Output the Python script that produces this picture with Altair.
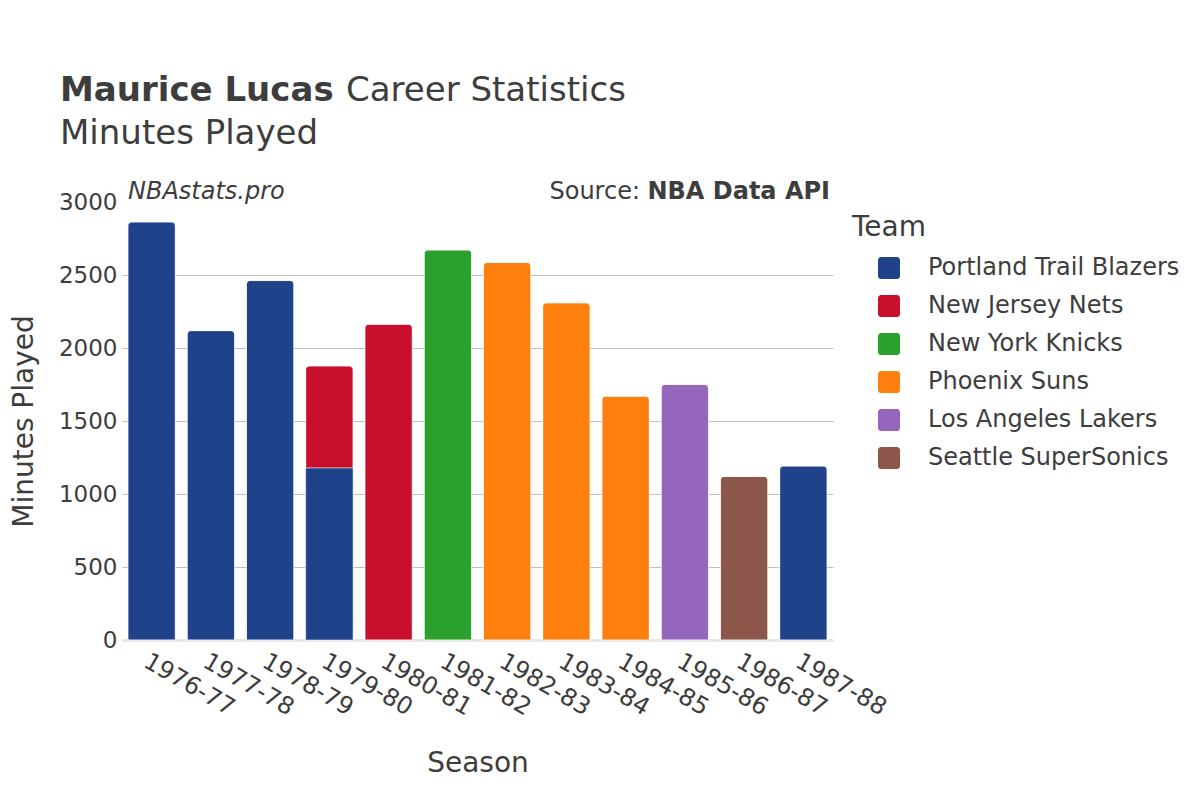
import altair as alt
import pandas as pd

seasons = ["1976-77", "1977-78", "1978-79", "1979-80", "1979-80", "1980-81", "1981-82",
           "1982-83", "1983-84", "1984-85", "1985-86", "1986-87", "1987-88"]
teams = ["Portland Trail Blazers", "Portland Trail Blazers", "Portland Trail Blazers",
         "Portland Trail Blazers", "New Jersey Nets", "New Jersey Nets", "New York Knicks",
         "Phoenix Suns", "Phoenix Suns", "Phoenix Suns", "Los Angeles Lakers",
         "Seattle SuperSonics", "Portland Trail Blazers"]
minutes = [2863, 2119, 2462, 1178, 699, 2162, 2671, 2586, 2309, 1670, 1750, 1120, 1191]
stack_order = [0, 0, 0, 0, 1, 0, 0, 0, 0, 0, 0, 0, 0]
is_top = [True, True, True, False, True, True, True, True, True, True, True, True, True]

season_order = ["1976-77", "1977-78", "1978-79", "1979-80", "1980-81", "1981-82",
                "1982-83", "1983-84", "1984-85", "1985-86", "1986-87", "1987-88"]
team_order = ["Portland Trail Blazers", "New Jersey Nets", "New York Knicks",
              "Phoenix Suns", "Los Angeles Lakers", "Seattle SuperSonics"]
team_colors = ["#1f428a", "#c8102e", "#2ca02c", "#ff7f0e", "#9467bd", "#8c564b"]

df = pd.DataFrame({"Season": seasons, "Team": teams, "Minutes": minutes,
                   "ord": stack_order, "top": is_top})

FONT = "DejaVu Sans"
TXT = "#3d3d3d"

rounded = ("M-0.72,-1 L0.72,-1 A0.28,0.28 0 0 1 1,-0.72 L1,0.72 A0.28,0.28 0 0 1 0.72,1 "
           "L-0.72,1 A0.28,0.28 0 0 1 -1,0.72 L-1,-0.72 A0.28,0.28 0 0 1 -0.72,-1 Z")

x_enc = alt.X("Season:N", sort=season_order, scale=alt.Scale(paddingInner=0.2, paddingOuter=0.1),
              axis=alt.Axis(title="Season", labelAngle=30, labelAlign="left", labelBaseline="top",
                            labelPadding=9, labelFontSize=24, labelColor=TXT, ticks=False,
                            domainColor="#e6e6e6", domainWidth=3, titleFontSize=28,
                            titleFontWeight="normal", titleColor=TXT, titlePadding=30,
                            labelFont=FONT, titleFont=FONT))
y_enc = alt.Y("Minutes:Q", stack="zero", scale=alt.Scale(domain=[0, 3000], nice=False),
              axis=alt.Axis(title="Minutes Played", values=[0, 500, 1000, 1500, 2000, 2500, 3000],
                            format="d", labelFontSize=23, labelColor=TXT, ticks=False, domain=False,
                            labelPadding=5, gridColor="#c0c0c0", gridWidth=1,
                            gridOpacity={"condition": {"test": "datum.value === 0 || datum.value === 3000",
                                                       "value": 0}, "value": 1},
                            titleFontSize=28, titleFontWeight="normal", titleColor=TXT,
                            titlePadding=20, labelFont=FONT, titleFont=FONT))
color_enc = alt.Color("Team:N", scale=alt.Scale(domain=team_order, range=team_colors),
                      legend=alt.Legend(title="Team", orient="none", legendX=730, legendY=12,
                                        titleFontSize=28, titleFontWeight="normal", titleColor=TXT,
                                        titleFont=FONT, labelFont=FONT, labelFontSize=24,
                                        labelColor=TXT, symbolType=rounded, symbolSize=484,
                                        symbolStrokeWidth=0, symbolOpacity=1, symbolOffset=25,
                                        labelOffset=27, rowPadding=14, titlePadding=14,
                                        labelLimit=400))

bars_top = alt.Chart(df).mark_bar(cornerRadiusTopLeft=4, cornerRadiusTopRight=4,
                                  stroke="white", strokeWidth=0.5).encode(
    x=x_enc, y=y_enc, color=color_enc, order=alt.Order("ord:Q"))

bars_low = alt.Chart(df).transform_filter("!datum.top").mark_bar(
    stroke="white", strokeWidth=0.5).encode(
    x=x_enc, y=y_enc, color=alt.Color("Team:N", scale=alt.Scale(domain=team_order, range=team_colors),
                                      legend=None), order=alt.Order("ord:Q"))


def label(text, x, y, size, weight="normal", style="normal", align="left"):
    return alt.Chart(pd.DataFrame({"t": [text]})).mark_text(
        align=align, baseline="alphabetic", fontSize=size, fontWeight=weight,
        fontStyle=style, font=FONT, color=TXT).encode(
        text="t:N", x=alt.value(x), y=alt.value(y))


texts = [
    label("Maurice Lucas", -62, -101, 34, weight="bold"),
    label("Career Statistics", 224, -101, 34),
    label("Minutes Played", -62, -58, 34),
    label("NBAstats.pro", 6, -3, 24, style="italic"),
    label("Source:", 518, -3, 24, align="right"),
    label("NBA Data API", 708, -3, 24, weight="bold", align="right"),
]

chart = alt.layer(bars_top, bars_low, *texts).properties(
    width=711, height=438,
    autosize=alt.AutoSizeParams(type="none"),
    padding={"left": 114, "top": 194, "right": 359, "bottom": 152},
).configure_view(stroke=None)

chart.save("out.html", embed_options={"renderer": "svg", "actions": False})
